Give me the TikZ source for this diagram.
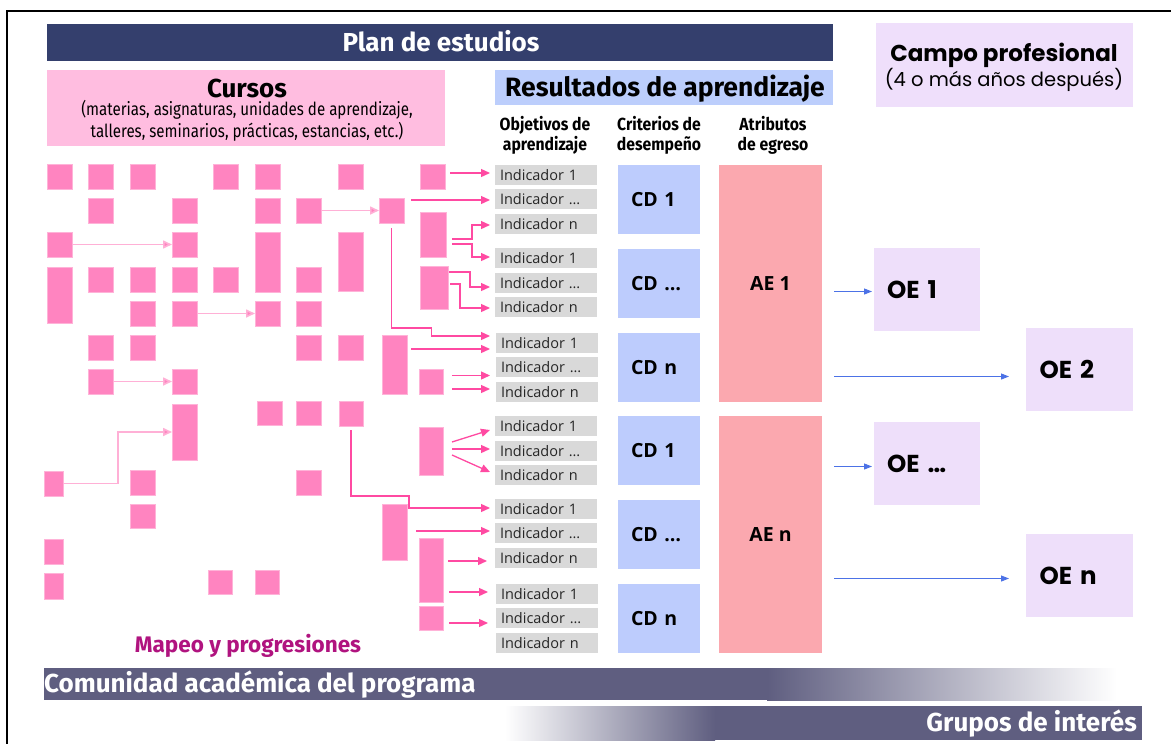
\documentclass[tikz,border=0pt]{standalone}
\usepackage{fontspec}
\setmainfont{Fira Sans}
\newfontfamily\osans{Open Sans}
\newfontfamily\pop{Poppins}
\newfontfamily\fcond[FakeStretch=0.84]{Fira Sans}
\newfontfamily\fhead[FakeStretch=0.9]{Fira Sans}
\usetikzlibrary{arrows.meta,calc}
\definecolor{navy}{HTML}{343F6D}
\definecolor{pinkhead}{HTML}{FFBDE0}
\definecolor{resblue}{HTML}{BCCEFC}
\definecolor{lav}{HTML}{EFDFFB}
\definecolor{sqpink}{HTML}{FF84C0}
\definecolor{sqedge}{HTML}{FFB3D8}
\definecolor{arrpink}{HTML}{FF4AA2}
\definecolor{larrpink}{HTML}{FFB0D6}
\definecolor{indgray}{HTML}{D9D9D9}
\definecolor{indtext}{HTML}{262626}
\definecolor{cdblue}{HTML}{BDCCFD}
\definecolor{aepink}{HTML}{FBA8AF}
\definecolor{oelav}{HTML}{EEDFFA}
\definecolor{barc}{HTML}{5F5E80}
\definecolor{magenta2}{HTML}{B0137F}
\definecolor{arrblue}{HTML}{4C72E6}
\newcommand{\setfs}[2]{\fontsize{#1}{#2}\selectfont}
\tikzset{
 base/.style={inner sep=0pt, outer sep=0pt, anchor=north west},
 sqbox/.style={base, fill=sqpink, draw=sqedge, line width=0.7pt},
 indbox/.style={base, fill=indgray, inner xsep=5pt, inner ysep=0pt, text width=92pt, align=left, font=\osans\setfs{14.5}{16}, text=indtext, minimum height=20pt},
 cdbox/.style={base, fill=cdblue, inner xsep=13pt, text width=56pt, align=left, font=\osans\bfseries\setfs{19.5}{22}, minimum height=69pt},
 aebox/.style={base, fill=aepink, font=\osans\bfseries\setfs{19.5}{22}, minimum width=103pt, minimum height=237pt},
 oebox/.style={base, fill=oelav, inner xsep=13pt, text width=80pt, align=left, font=\pop\bfseries\setfs{24.5}{28}, minimum height=83pt},
 parr/.style={draw=arrpink, line width=1.3pt, -{Triangle[length=9pt,width=8pt]}},
 larr/.style={draw=larrpink, line width=1.6pt, -{Triangle[length=9pt,width=8pt,fill=sqpink]}},
 barr/.style={draw=arrblue, line width=1pt, -{Triangle[length=8pt,width=6pt]}},
 lbl/.style={inner sep=0pt, anchor=base},
}
\newcommand{\sqr}[5]{\node[sqbox,minimum width=#4pt,minimum height=#5pt] (#1) at (#2,#3) {};}
\newcommand{\ind}[4]{\node[indbox] (#1) at (#2,#3) {#4};}
\begin{document}
\begin{tikzpicture}[x=1pt,y=-1pt]
\useasboundingbox (0,0) rectangle (1171,744);
\fill[white] (0,0) rectangle (1171,744);
\draw[line width=2.2pt] (7,744) -- (7,11) -- (1171,11);

% headers
\node[base, fill=navy, minimum width=786pt, minimum height=37pt] (plan) at (47,24) {};
\node[lbl, text=white, font=\bfseries\setfs{26}{30}] (planT) at (441,51) {Plan de estudios};
\node[base, fill=pinkhead, minimum width=398pt, minimum height=76pt] (cursos) at (47,70) {};
\node[lbl, font=\bfseries\setfs{26}{30}] (cursosT) at (247,97) {Cursos};
\node[lbl, font=\fcond\setfs{18}{21}] (cursosA) at (247,115) {(materias, asignaturas, unidades de aprendizaje,};
\node[lbl, font=\fcond\setfs{18}{21}] (cursosB) at (247,137) {talleres, seminarios, prácticas, estancias, etc.)};
\node[base, fill=resblue, minimum width=338pt, minimum height=35pt] (res) at (495,70) {};
\node[lbl, font=\bfseries\setfs{26.5}{30}] (resT) at (665,96) {Resultados de aprendizaje};
\node[lbl, font=\fhead\bfseries\setfs{17.5}{20}] (h1a) at (545,130) {Objetivos de};
\node[lbl, font=\fhead\bfseries\setfs{17.5}{20}] (h1b) at (545,150) {aprendizaje};
\node[lbl, font=\fhead\bfseries\setfs{17.5}{20}] (h2a) at (659,130) {Criterios de};
\node[lbl, font=\fhead\bfseries\setfs{17.5}{20}] (h2b) at (659,150) {desempeño};
\node[lbl, font=\fhead\bfseries\setfs{17.5}{20}] (h3a) at (773,130) {Atributos};
\node[lbl, font=\fhead\bfseries\setfs{17.5}{20}] (h3b) at (773,150) {de egreso};
\node[base, fill=lav, minimum width=257pt, minimum height=84pt] (campo) at (876,23) {};
\node[lbl, font=\pop\bfseries\setfs{23}{28}] (campoT) at (1004,61) {Campo profesional};
\node[lbl, font=\pop\setfs{19.5}{24}] (campoS) at (1004,86) {(4 o más años después)};

% pink squares
\sqr{a1}{47}{164}{25}{25}
\sqr{a2}{88}{164}{25}{25}
\sqr{a3}{130}{164}{25}{25}
\sqr{a4}{213}{164}{25}{25}
\sqr{a5}{255}{164}{25}{25}
\sqr{a6}{338}{164}{25}{25}
\sqr{a7}{420}{164}{25}{25}
\sqr{b1}{88}{198}{25}{25}
\sqr{b2}{172}{198}{25}{25}
\sqr{b3}{255}{198}{25}{25}
\sqr{b4}{296}{198}{25}{25}
\sqr{b5}{379}{198}{25}{25}
\sqr{c1}{47}{232}{25}{25}
\sqr{c2}{172}{232}{25}{25}
\sqr{c3}{255}{232}{25}{60}
\sqr{c4}{338}{232}{25}{59}
\sqr{c5}{420}{212}{26}{45}
\sqr{d1}{47}{267}{25}{56}
\sqr{d2}{88}{267}{25}{25}
\sqr{d3}{130}{267}{25}{25}
\sqr{d4}{172}{267}{25}{25}
\sqr{d5}{213}{267}{25}{25}
\sqr{d6}{296}{267}{25}{25}
\sqr{d7}{420}{266}{28}{43}
\sqr{e1}{130}{301}{25}{25}
\sqr{e2}{172}{301}{25}{25}
\sqr{e3}{255}{301}{25}{25}
\sqr{e4}{296}{301}{25}{25}
\sqr{f1}{88}{335}{25}{25}
\sqr{f2}{130}{335}{25}{25}
\sqr{f3}{296}{335}{25}{25}
\sqr{f4}{338}{335}{25}{25}
\sqr{f5}{382}{335}{25}{59}
\sqr{g1}{88}{369}{25}{25}
\sqr{g2}{172}{369}{25}{25}
\sqr{g3}{419}{369}{24}{25}
\sqr{h1}{257}{401}{25}{24}
\sqr{h2}{296}{401}{25}{24}
\sqr{h3}{339}{401}{24}{25}
\sqr{h4}{172}{404}{25}{56}
\sqr{h5}{419}{427}{24}{48}
\sqr{k1}{44}{471}{19}{25}
\sqr{k2}{130}{470}{25}{25}
\sqr{k3}{296}{470}{25}{25}
\sqr{m1}{130}{504}{25}{24}
\sqr{m2}{382}{504}{25}{56}
\sqr{n1}{44}{539}{19}{25}
\sqr{n2}{419}{538}{24}{64}
\sqr{p1}{44}{573}{19}{26}
\sqr{p2}{208}{570}{24}{24}
\sqr{p3}{255}{570}{24}{24}
\sqr{p4}{419}{606}{24}{24}

% indicators
\ind{i11}{495}{165}{Indicador 1}
\ind{i12}{495}{189}{Indicador …}
\ind{i13}{495}{214}{Indicador n}
\ind{i21}{495}{248}{Indicador 1}
\ind{i22}{495}{273}{Indicador …}
\ind{i23}{495}{297}{Indicador n}
\ind{i31}{496}{333}{Indicador 1}
\ind{i32}{496}{357}{Indicador …}
\ind{i33}{496}{382}{Indicador n}
\ind{i41}{495}{416}{Indicador 1}
\ind{i42}{495}{441}{Indicador …}
\ind{i43}{495}{465}{Indicador n}
\ind{i51}{495}{499}{Indicador 1}
\ind{i52}{495}{523}{Indicador …}
\ind{i53}{495}{548}{Indicador n}
\ind{i61}{496}{584}{Indicador 1}
\ind{i62}{496}{608}{Indicador …}
\ind{i63}{496}{633}{Indicador n}

% CD, AE, OE
\node[cdbox] (cd1) at (618,165) {CD 1};
\node[cdbox] (cd2) at (618,249) {CD …};
\node[cdbox] (cd3) at (618,333) {CD n};
\node[cdbox] (cd4) at (618,416) {CD 1};
\node[cdbox] (cd5) at (618,500) {CD …};
\node[cdbox] (cd6) at (618,584) {CD n};
\node[aebox] (ae1) at (719,165) {AE 1};
\node[aebox] (ae2) at (719,416) {AE n};
\node[oebox] (oe1) at (874,248) {OE 1};
\node[oebox, minimum width=107pt] (oe2) at (1026,328) {OE 2};
\node[oebox] (oe3) at (874,422) {OE …};
\node[oebox, minimum width=107pt] (oe4) at (1026,534) {OE n};

% light internal arrows
\draw[larr] (c1.east) -- (c2.west);
\draw[larr] (b4.east) -- (b5.west);
\draw[larr] (e2.east) -- (e3.west);
\draw[larr] (g1.east) -- (g2.west);
\draw[larr] (k1.east) -- ++(55,0) |- (h4.west);

% arrows to indicators
\draw[parr] ($(a7.east |- i11.west)+(5,-2)$) -- ($(i11.west)+(-5,-2)$);
\draw[parr] ($(b5.east |- i12.west)+(7,1)$) -- ($(i12.west)+(-5,1)$);
\draw[parr] ($(c5.east)+(6,4.5)$) -- ++(20,0) |- ($(i13.west)+(-5,1)$);
\draw[parr] ($(c5.east)+(6,9.5)$) -- ++(20,0) |- ($(i21.west)+(-5,-1)$);
\draw[parr] ($(d7.east)+(1,-15.5)$) -- ++(21,0) |- ($(i22.west)+(-5,4)$);
\draw[parr] ($(d7.east)+(2,-3.5)$) -- ++(10,0) |- ($(i23.west)+(-5,1)$);
\draw[parr] ($(b5.south)+(0,5)$) -- ++(0,100) -- ++(40,0) |- ($(i31.west)+(-6,-7)$);
\draw[parr] ($(f5.east |- i31.west)+(4,6)$) -- ($(i31.west)+(-6,6)$);
\draw[parr] ($(g3.east)+(9,-6)$) -- ($(i32.west |- g3.east)+(-6,-6)$);
\draw[parr] ($(g3.east)+(9,7.5)$) -- ($(i33.west |- g3.east)+(-6,7.5)$);
\draw[parr] ($(h5.east)+(9,-9)$) -- ($(i41.west)+(-5,4)$);
\draw[parr] ($(h5.east)+(9,-2)$) -- ($(i42.west)+(-5,-2)$);
\draw[parr] ($(h5.east)+(9,4)$) -- ($(i43.west)+(-5,-3)$);
\draw[parr] ($(h3.south)+(0,4)$) -- ++(0,66) -- ++(58,0) |- ($(i51.west)+(-5,-1)$);
\draw[parr] ($(m2.east |- i52.west)+(9,-2)$) -- ($(i52.west)+(-5,-2)$);
\draw[parr] ($(n2.east |- i53.west)+(5,3)$) -- ($(i53.west)+(-8,3)$);
\draw[parr] ($(n2.east |- i61.west)+(6,-2)$) -- ($(i61.west)+(-8,-2)$);
\draw[parr] ($(p4.east |- i62.west)+(6,5)$) -- ($(i62.west)+(-8,5)$);

% blue arrows
\draw[barr] ($(ae1.east |- oe1.west)+(12,2)$) -- ($(oe1.west)+(-2,2)$);
\draw[barr] ($(ae1.east |- oe2.west)+(12,7)$) -- ($(oe2.west)+(-17,7)$);
\draw[barr] ($(ae2.east |- oe3.west)+(12,3)$) -- ($(oe3.west)+(-2,3)$);
\draw[barr] ($(ae2.east |- oe4.west)+(12,3)$) -- ($(oe4.west)+(-17,3)$);

% bottom
\node[lbl, text=magenta2, font=\bfseries\setfs{22.5}{26}] (mapeo) at (248,652) {Mapeo y progresiones};
\node[base, fill=barc, minimum width=723pt, minimum height=32pt] (com) at (44,668) {};
\shade[left color=barc, right color=white] (767,668) rectangle (1117,700);
\node[lbl, anchor=base west, text=white, font=\bfseries\setfs{26}{30}] (comT) at (44,692) {Comunidad académica del programa};
\shade[left color=white, right color=barc] (505,706) rectangle (715,740);
\node[base, fill=barc, minimum width=427pt, minimum height=34pt] (grp) at (715,706) {};
\node[lbl, anchor=base east, text=white, font=\bfseries\setfs{26}{30}] (grpT) at (1137,731) {Grupos de interés};
\end{tikzpicture}
\end{document}
